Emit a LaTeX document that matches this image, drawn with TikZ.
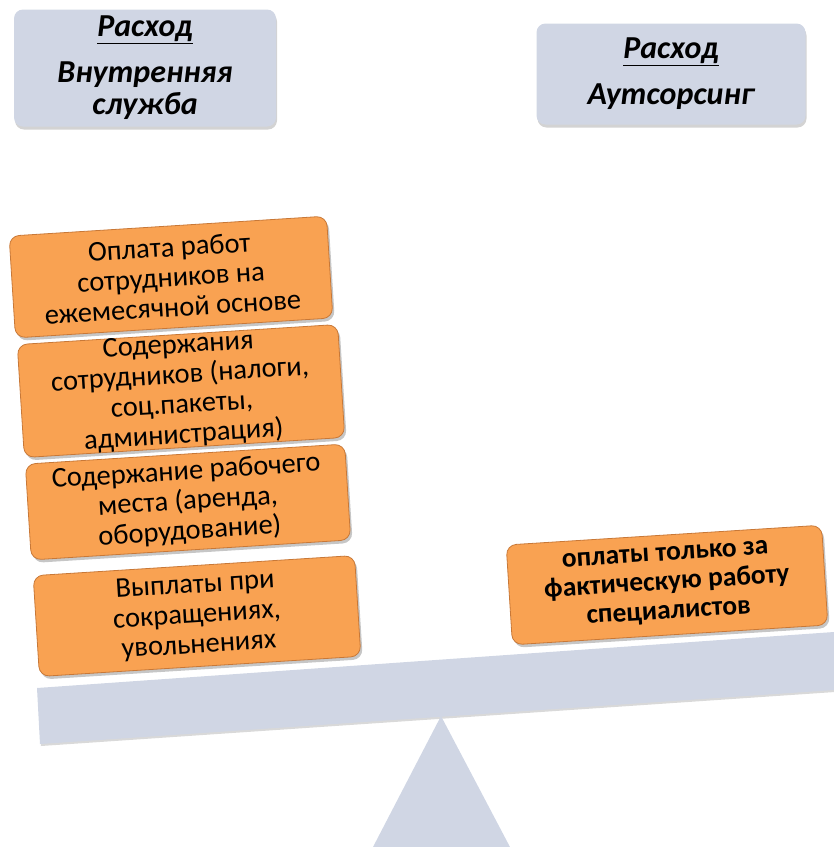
\documentclass[tikz,border=0pt]{standalone}
\usepackage{fontspec}
\setmainfont{Carlito}
\usetikzlibrary{shadows}
\definecolor{grayblue}{RGB}{208,214,228}
\definecolor{orfill}{RGB}{249,162,82}
\definecolor{ordraw}{RGB}{200,120,55}
\begin{document}
\begin{tikzpicture}[x=1pt,y=-1pt,
  header/.style={draw=none, fill=grayblue, rounded corners=9pt,
    drop shadow={shadow xshift=1pt, shadow yshift=-3pt, opacity=0.35},
    align=center, font=\fontsize{32}{32}\selectfont\bfseries\itshape, inner sep=0pt},
  cost/.style={draw=ordraw, line width=0.8pt, fill=orfill, rounded corners=10pt,
    drop shadow={shadow xshift=2pt, shadow yshift=-3pt, opacity=0.45},
    align=center, font=\fontsize{28.5}{30}\selectfont, inner sep=0pt, rotate=3.6},
  boldcost/.style={cost, font=\fontsize{27.5}{29}\selectfont\bfseries}
]
\useasboundingbox (0,0) rectangle (834,847);
% header boxes
\node[header, minimum width=262pt, minimum height=117pt] (h1) at (145,68)
  {\underline{Расход}\\[14pt]Внутренняя\\служба};
\node[header, minimum width=269pt, minimum height=101pt] (h2) at (671,74)
  {\underline{Расход}\\[14pt]Аутсорсинг};
% beam and fulcrum
\fill[grayblue, drop shadow={shadow xshift=1pt, shadow yshift=-2pt, opacity=0.3}]
  (37,688) -- (834,632) -- (834,690) -- (40,744) -- cycle;
\fill[grayblue] (441,716) -- (510,847) -- (373,847) -- cycle;
% cost boxes
\node[cost, minimum width=318pt, minimum height=102pt] (c1) at (171,277)
  {Оплата работ\\сотрудников на\\ежемесячной основе};
\node[cost, minimum width=321pt, minimum height=100pt] (c2) at (181,391)
  {Содержания\\сотрудников (налоги,\\соц.пакеты,\\администрация)};
\node[cost, minimum width=320pt, minimum height=96pt] (c3) at (188,502)
  {Содержание рабочего\\места (аренда,\\оборудование)};
\node[cost, minimum width=322pt, minimum height=101pt] (c4) at (197,616)
  {Выплаты при\\сокращениях,\\увольнениях};
\node[boldcost, minimum width=316pt, minimum height=100pt] (r1) at (667,585)
  {оплаты только за\\фактическую работу\\специалистов};
\end{tikzpicture}
\end{document}
